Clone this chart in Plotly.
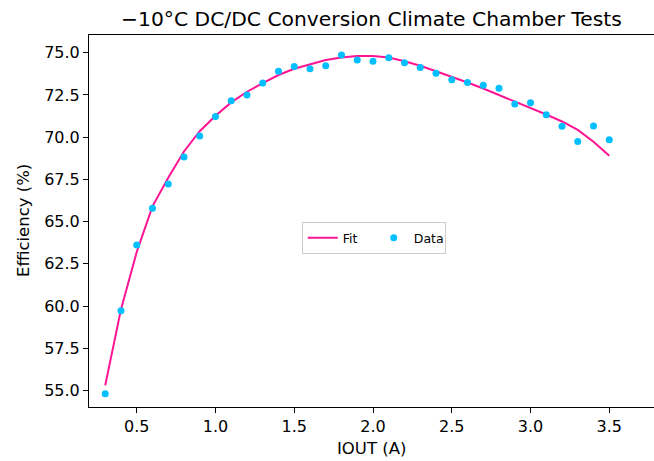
import plotly.graph_objects as go

iout = [0.3, 0.4, 0.5, 0.6, 0.7, 0.8, 0.9, 1.0, 1.1, 1.2, 1.3, 1.4, 1.5, 1.6, 1.7,
        1.8, 1.9, 2.0, 2.1, 2.2, 2.3, 2.4, 2.5, 2.6, 2.7, 2.8, 2.9, 3.0, 3.1, 3.2,
        3.3, 3.4, 3.5]
efficiency = [54.8, 59.72, 63.62, 65.79, 67.23, 68.83, 70.07, 71.23, 72.16, 72.5,
              73.21, 73.9, 74.19, 74.05, 74.23, 74.86, 74.57, 74.49, 74.7, 74.41,
              74.13, 73.78, 73.4, 73.24, 73.07, 72.89, 71.96, 72.04, 71.33, 70.64,
              69.75, 70.66, 69.85]
fit = [55.3, 59.8, 63.2, 65.9, 67.6, 69.15, 70.35, 71.27, 72.06, 72.69,
       73.2, 73.68, 74.05, 74.33, 74.57, 74.72, 74.8, 74.8, 74.72, 74.49,
       74.23, 73.9, 73.58, 73.24, 72.88, 72.5, 72.12, 71.72, 71.34, 70.93,
       70.43, 69.73, 68.9]

title_text = "\u221210\u00b0C DC/DC Conversion Climate Chamber Tests"
x_label = "IOUT (A)"
y_label = "Efficiency (%)"

FONT = "DejaVu Sans"

fig = go.Figure()
fig.add_trace(go.Scatter(x=iout, y=fit, mode="lines", name="Fit",
                         line=dict(color="#FF1493", width=2)))
fig.add_trace(go.Scatter(x=iout, y=efficiency, mode="markers", name="Data",
                         marker=dict(color="#00BFFF", size=7, line=dict(width=0))))

W, H = 654, 461
L, R, T, B = 89, 0, 34.5, 461 - 407.3

fig.update_layout(
    width=W, height=H,
    margin=dict(l=L, r=R, t=T, b=B, pad=0),
    paper_bgcolor="white", plot_bgcolor="white",
    font=dict(family=FONT, color="black", size=16),
    showlegend=True,
    legend=dict(orientation="h", x=0.504, y=0.454, xanchor="center", yanchor="middle",
                bgcolor="rgba(255,255,255,0.8)", bordercolor="#cccccc", borderwidth=1,
                font=dict(size=12.5, family=FONT), itemwidth=30, entrywidth=26),
    xaxis=dict(range=[0.197, 3.784], tickmode="linear", tick0=0.5, dtick=0.5,
               tickformat=".1f", showgrid=False, zeroline=False,
               showline=True, linecolor="black", linewidth=1.1, mirror=True,
               ticks="outside", ticklen=5, tickcolor="black", tickwidth=1,
               tickfont=dict(size=16, family=FONT)),
    yaxis=dict(range=[54.02, 76.05], tickmode="linear", tick0=55, dtick=2.5,
               tickformat=".1f", showgrid=False, zeroline=False,
               showline=True, linecolor="black", linewidth=1.1, mirror=False,
               ticks="outside", ticklen=5, tickcolor="black", tickwidth=1,
               tickfont=dict(size=16, family=FONT)),
    annotations=[
        dict(text=title_text, xref="paper", yref="paper", x=0.5, y=1 + (34.5 - 18) / 372.8,
             xanchor="center", yanchor="middle", showarrow=False,
             font=dict(size=20.3, family=FONT, color="black")),
        dict(text=x_label, xref="paper", yref="paper", x=0.5, y=-(449 - 407.3) / 372.8,
             xanchor="center", yanchor="middle", showarrow=False,
             font=dict(size=16.5, family=FONT, color="black")),
        dict(text=y_label, xref="paper", yref="paper", x=-(89 - 23) / 565, y=0.5,
             xanchor="center", yanchor="middle", showarrow=False, textangle=-90,
             font=dict(size=16.5, family=FONT, color="black")),
    ],
)

fig.write_html("out.html", config={"displayModeBar": False},
               post_script="document.body.style.margin='0';document.body.style.padding='0';")
